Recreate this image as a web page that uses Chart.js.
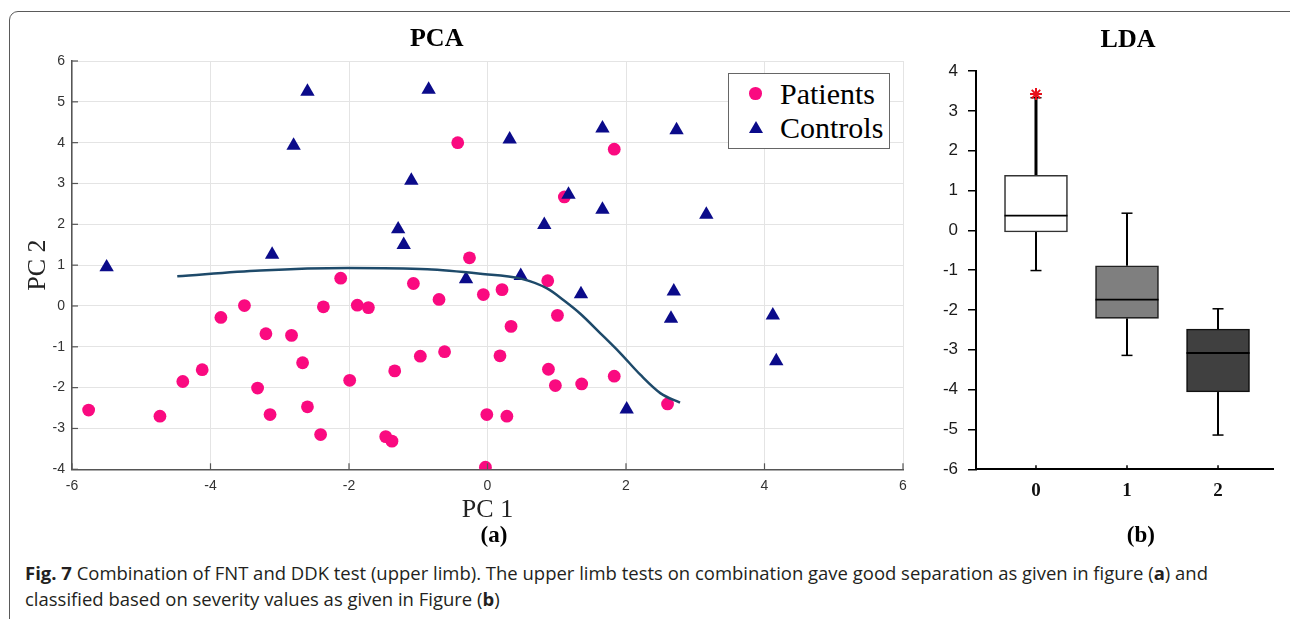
<!DOCTYPE html>
<html><head><meta charset="utf-8">
<script src="https://cdn.jsdelivr.net/npm/chart.js@4.4.1/dist/chart.umd.min.js"></script>
<style>
html,body{margin:0;padding:0;background:#fff;width:1290px;height:619px;overflow:hidden;position:relative}
.frame{position:absolute;left:9px;top:11px;width:1320px;height:720px;border:1.5px solid #5a5a5a;border-radius:9px;box-sizing:border-box}
canvas{position:absolute}
.lbl{position:absolute;white-space:nowrap;color:#000;height:40px;line-height:40px}
.c{text-align:center;width:300px}
#cap{position:absolute;left:25px;top:560px;font-family:'Open Sans','Noto Sans',sans-serif;font-size:18px;line-height:26px;color:#231f20;white-space:nowrap;transform-origin:0 0}
.mk{position:absolute;z-index:3}
</style>
</head><body>
<div class="frame"></div>
<canvas id="pca" width="930" height="560" style="left:0;top:0"></canvas>
<canvas id="lda" width="360" height="560" style="left:930px;top:0"></canvas>

<div class="lbl c" style="left:286.7px;top:17.5px;font:bold 26px 'Liberation Serif',serif;line-height:40px">PCA</div>
<div class="lbl c" style="left:978px;top:18.5px;font:bold 26px 'Liberation Serif',serif;line-height:40px">LDA</div>
<div class="lbl c" style="left:344px;top:515px;font:bold 23px 'Liberation Serif',serif;line-height:40px">(a)</div>
<div class="lbl c" style="left:990.8px;top:515px;font:bold 23px 'Liberation Serif',serif;line-height:40px">(b)</div>

<div style="position:absolute;left:728px;top:73px;width:162px;height:76px;border:1.5px solid #666;background:#fff;box-sizing:border-box;z-index:2"></div>
<div class="mk" style="left:749.3px;top:87.3px;width:12.7px;height:12.7px;border-radius:50%;background:#fa0a80"></div>
<div class="mk" style="left:748.5px;top:120.7px;width:0;height:0;border-left:7.5px solid transparent;border-right:7.5px solid transparent;border-bottom:12px solid #0b0b8a"></div>
<div class="lbl" style="left:780px;top:74.2px;font:30px 'Liberation Serif',serif;line-height:40px;z-index:3">Patients</div>
<div class="lbl" style="left:780px;top:107.8px;font:30px 'Liberation Serif',serif;line-height:40px;z-index:3">Controls</div>

<div id="cap"><span id="l1"><b>Fig. 7</b> Combination of FNT and DDK test (upper limb). The upper limb tests on combination gave good separation as given in figure (<b>a</b>) and</span><br>classified based on severity values as given in Figure (<b>b</b>)</div>

<script>
// ---------- PCA data ----------
const patientsPC1 = [-5.76,-4.73,-4.40,-4.12,-3.85,-3.51,-3.20,-3.32,-3.14,-2.83,-2.67,-2.60,-2.41,-2.37,-2.12,-1.99,-1.88,-1.72,-1.47,-1.38,-1.34,-1.07,-0.97,-0.62,-0.70,-0.43,-0.26,-0.06,0.21,0.87,1.01,1.11,1.83,0.34,0.18,0.88,0.98,1.36,1.83,2.60,-0.01,0.28,-0.03];
const patientsPC2 = [-2.55,-2.70,-1.85,-1.56,-0.28,0.01,-0.68,-2.01,-2.66,-0.72,-1.39,-2.47,-3.15,-0.02,0.68,-1.82,0.02,-0.04,-3.20,-3.31,-1.59,0.55,-1.23,-1.12,0.16,4.00,1.18,0.28,0.40,0.62,-0.23,2.67,3.84,-0.50,-1.22,-1.55,-1.95,-1.91,-1.72,-2.40,-2.66,-2.70,-3.95];
const controlsPC1 = [-5.50,-3.11,-2.80,-2.60,-1.10,-1.29,-1.21,-0.85,0.32,1.66,2.73,1.17,1.66,0.82,3.16,-0.31,0.48,1.35,2.69,2.65,4.12,4.17,2.01];
const controlsPC2 = [0.95,1.26,3.93,5.25,3.07,1.88,1.50,5.30,4.08,4.35,4.31,2.73,2.36,1.99,2.24,0.66,0.74,0.29,0.36,-0.31,-0.23,-1.35,-2.53];
const boundaryPC1 = [-4.48,-3.28,-2.02,-0.87,-0.10,0.48,0.86,1.10,1.34,1.63,1.92,2.21,2.50,2.78];
const boundaryPC2 = [0.73,0.87,0.93,0.90,0.79,0.67,0.43,0.14,-0.19,-0.67,-1.16,-1.69,-2.14,-2.37];
const pcaXTicks = [-6,-4,-2,0,2,4,6];
const pcaYTicks = [-4,-3,-2,-1,0,1,2,3,4,5,6];
const seriesNames = ['Patients','Controls'];

// ---------- LDA data ----------
const ldaGroups = ['0','1','2'];
const ldaMin    = [-1.01,-3.14,-5.14];
const ldaQ1     = [-0.04,-2.21,-4.06];
const ldaMedian = [0.37,-1.74,-3.08];
const ldaQ3     = [1.38,-0.89,-2.48];
const ldaMax    = [3.33,0.43,-1.97];
const ldaOutlierGroup = [0];
const ldaOutlierValue = [3.42];
const ldaYTicks = [-6,-5,-4,-3,-2,-1,0,1,2,3,4];

const toXY = (xs, ys) => xs.map((v,i)=>({x:v, y:ys[i]}));

const innerTicks = {
  id:'innerTicks',
  afterDraw(chart, args, o){
    const {ctx, scales:{x,y}, chartArea:a} = chart;
    ctx.save(); ctx.strokeStyle=o.color; ctx.lineWidth=o.width;
    x.ticks.forEach(t=>{const p=x.getPixelForValue(t.value); ctx.beginPath(); ctx.moveTo(p,a.bottom); ctx.lineTo(p,a.bottom-o.len); ctx.stroke();});
    if (o.yAxis) y.ticks.forEach(t=>{const p=y.getPixelForValue(t.value); ctx.beginPath(); ctx.moveTo(a.left,p); ctx.lineTo(a.left+o.len,p); ctx.stroke();});
    ctx.restore();
  }
};

new Chart(document.getElementById('pca'), {
  type:'scatter',
  data:{datasets:[
    {type:'line', label:'boundary', data:toXY(boundaryPC1,boundaryPC2), borderColor:'#1e4a6a', borderWidth:2.5, pointRadius:0, fill:false, cubicInterpolationMode:'monotone'},
    {label:seriesNames[1], data:toXY(controlsPC1,controlsPC2), pointStyle:'triangle', pointRadius:8.3, backgroundColor:'#0b0b8a', borderColor:'#0b0b8a', borderWidth:0},
    {label:seriesNames[0], data:toXY(patientsPC1,patientsPC2), pointStyle:'circle', pointRadius:6.4, backgroundColor:'#fa0a80', borderColor:'#fa0a80', borderWidth:0}
  ]},
  options:{
    responsive:false, animation:false, events:[],
    layout:{padding:{left:20, top:61, right:27, bottom:34.7}},
    plugins:{legend:{display:false}, tooltip:{enabled:false},
      innerTicks:{color:'#555', width:1.2, len:6, yAxis:true}},
    scales:{
      x:{type:'linear', min:-6, max:6,
        afterBuildTicks:s=>{s.ticks=pcaXTicks.map(v=>({value:v}));},
        ticks:{font:{family:'Liberation Sans', size:14}, color:'#333', padding:8, maxRotation:0},
        grid:{color:'#e4e4e4', lineWidth:1, drawTicks:false},
        border:{display:true, color:'#555', width:1.5},
        title:{display:true, text:'PC 1', font:{family:'Liberation Serif', size:26}, color:'#222', padding:0},
        afterFit:s=>{s.height=56;}},
      y:{type:'linear', min:-4, max:6,
        afterBuildTicks:s=>{s.ticks=pcaYTicks.map(v=>({value:v}));},
        ticks:{font:{family:'Liberation Sans', size:14}, color:'#333', padding:7},
        grid:{color:'#e4e4e4', lineWidth:1, drawTicks:false},
        border:{display:true, color:'#555', width:1.5},
        title:{display:true, text:'PC 2', font:{family:'Liberation Serif', size:26}, color:'#222', padding:{top:3,bottom:0}},
        afterFit:s=>{s.width=52;}}
    }
  },
  plugins:[innerTicks]
});

const boxParts = {
  id:'boxParts',
  beforeDatasetsDraw(chart, args, o){
    const {ctx, scales:{x,y}} = chart;
    ctx.save(); ctx.strokeStyle='#000'; ctx.lineCap='butt';
    ldaGroups.forEach((g,i)=>{
      const px = x.getPixelForValue(i);
      const seg=(x1,y1,x2,y2,w)=>{ctx.lineWidth=w; ctx.beginPath(); ctx.moveTo(x1,y1); ctx.lineTo(x2,y2); ctx.stroke();};
      const yMax=y.getPixelForValue(ldaMax[i]), yMin=y.getPixelForValue(ldaMin[i]);
      seg(px, y.getPixelForValue(ldaQ3[i]), px, yMax, i===0?3:2);
      seg(px, y.getPixelForValue(ldaQ1[i]), px, yMin, 2);
      seg(px-o.cap/2, yMax, px+o.cap/2, yMax, 1.5);
      seg(px-o.cap/2, yMin, px+o.cap/2, yMin, 1.5);
    });
    ctx.restore();
  },
  afterDatasetsDraw(chart, args, o){
    const {ctx, scales:{x,y}, chartArea:a} = chart;
    const meta = chart.getDatasetMeta(1);
    ctx.save(); ctx.strokeStyle='#000';
    ldaGroups.forEach((g,i)=>{
      const bar = meta.data[i]; if (!bar) return;
      const py = y.getPixelForValue(ldaMedian[i]);
      ctx.lineWidth = 1.8; ctx.beginPath(); ctx.moveTo(bar.x-bar.width/2, py); ctx.lineTo(bar.x+bar.width/2, py); ctx.stroke();
      const px = x.getPixelForValue(i);
      ctx.lineWidth = 1.5; ctx.beginPath(); ctx.moveTo(px, a.bottom); ctx.lineTo(px, a.bottom-4); ctx.stroke();
    });
    ctx.restore();
  }
};

new Chart(document.getElementById('lda'), {
  type:'bar',
  data:{datasets:[
    {type:'scatter', label:'outlier', data:ldaOutlierGroup.map((g,i)=>({x:g, y:ldaOutlierValue[i]})), pointStyle:'star', pointRadius:6, borderColor:'#e8111b', backgroundColor:'#e8111b', borderWidth:2},
    {type:'bar', label:'LDA', data:ldaGroups.map((g,i)=>({x:i, y:[ldaQ1[i], ldaQ3[i]]})),
      backgroundColor:['#ffffff','#7f7f7f','#404040'], borderColor:['#333','#222','#111'], borderWidth:1.6, borderSkipped:false, barThickness:63}
  ]},
  options:{
    responsive:false, animation:false, events:[],
    layout:{padding:{left:0, top:71, right:17, bottom:50.7}},
    plugins:{legend:{display:false}, tooltip:{enabled:false}, boxParts:{cap:11}},
    scales:{
      x:{type:'linear', min:-0.659, max:2.604, offset:false,
        afterBuildTicks:s=>{s.ticks=ldaGroups.map((g,i)=>({value:i}));},
        ticks:{callback:v=>ldaGroups[v], font:{family:'Liberation Serif', size:19, weight:'bold'}, color:'#111', padding:10, maxRotation:0, autoSkip:false},
        grid:{display:false, drawTicks:false},
        border:{display:true, color:'#000', width:2},
        afterFit:s=>{s.height=40;}},
      y:{type:'linear', min:-6, max:4,
        afterBuildTicks:s=>{s.ticks=ldaYTicks.map(v=>({value:v}));},
        ticks:{font:{family:'Liberation Sans', size:17}, color:'#1a1a1a', padding:10},
        grid:{display:true, drawOnChartArea:false, drawTicks:true, tickLength:8, color:'#000', lineWidth:1.5},
        border:{display:true, color:'#000', width:2},
        afterFit:s=>{s.width=46;}}
    }
  },
  plugins:[boxParts]
});

// fit caption line width to the reference
const l1 = document.getElementById('l1');
const w = l1.getBoundingClientRect().width;
document.getElementById('cap').style.transform = 'scaleX(' + (1183 / w) + ')';
</script>
</body></html>
